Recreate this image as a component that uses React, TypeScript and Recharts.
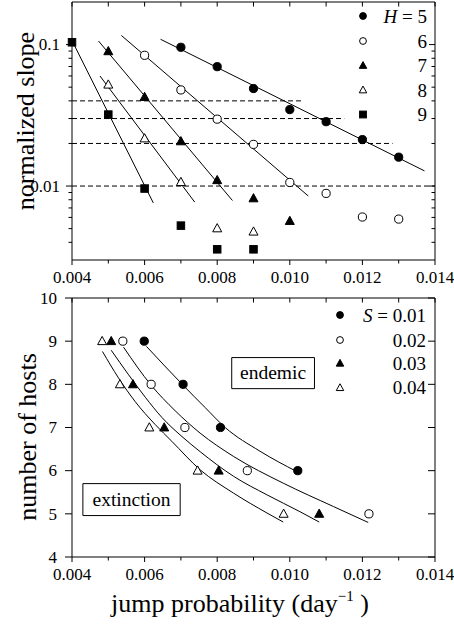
import React from 'react';
import { ComposedChart, Scatter, Line, XAxis, YAxis, ReferenceArea, Legend } from 'recharts';

const FONT = '"Liberation Serif", "Times New Roman", Tinos, "DejaVu Serif", serif';
const INK = '#000';

type Pt = [number, number];
type Kind = 'circle' | 'triangle' | 'square';

// ---------- shared x axis ----------
const jumpDomain: [number, number] = [0.004, 0.014];
const jumpTicks = [0.004, 0.005, 0.006, 0.007, 0.008, 0.009, 0.01, 0.011, 0.012, 0.013, 0.014];
const jumpLabelTicks = [0.004, 0.006, 0.008, 0.01, 0.012, 0.014];

// ---------- top panel: normalized slope ----------
const slopeDomain: [number, number] = [0.003, 0.2];
const slopeTicks = [0.004, 0.005, 0.006, 0.007, 0.008, 0.009, 0.01, 0.02, 0.03, 0.04, 0.05, 0.06, 0.07, 0.08, 0.09, 0.1];
const slopeLabelTicks = [0.01, 0.1];
const hLabels = ['5', '6', '7', '8', '9'];

const slopeH5: Pt[] = [[0.007, 0.0957], [0.008, 0.0698], [0.009, 0.0489], [0.010, 0.0347], [0.011, 0.0285], [0.012, 0.0213], [0.013, 0.0160]];
const slopeH6: Pt[] = [[0.006, 0.084], [0.007, 0.0478], [0.008, 0.0297], [0.009, 0.0197], [0.010, 0.0106], [0.011, 0.00887], [0.012, 0.00604], [0.013, 0.00584]];
const slopeH7: Pt[] = [[0.005, 0.0897], [0.006, 0.0426], [0.007, 0.0207], [0.008, 0.011], [0.009, 0.00818], [0.010, 0.00566]];
const slopeH8: Pt[] = [[0.005, 0.0521], [0.006, 0.0217], [0.007, 0.01066], [0.008, 0.00502], [0.009, 0.00476]];
const slopeH9: Pt[] = [[0.004, 0.1038], [0.005, 0.032], [0.006, 0.0096], [0.007, 0.00525], [0.008, 0.00357], [0.009, 0.00357]];

const fitH5: Pt[] = [[0.00644, 0.109], [0.01371, 0.0128]];
const fitH6: Pt[] = [[0.00536, 0.116], [0.01051, 0.0085]];
const fitH7: Pt[] = [[0.00473, 0.106], [0.00842, 0.0079]];
const fitH8: Pt[] = [[0.00477, 0.060], [0.00738, 0.0077]];
const fitH9: Pt[] = [[0.00403, 0.103], [0.00624, 0.0076]];

const thresholdLevels = [0.04, 0.03, 0.02, 0.01];
const thresholdStart = 0.004;
const thresholdEnds = [0.01038, 0.0115, 0.01283, 0.014];

// ---------- bottom panel: number of hosts ----------
const hostDomain: [number, number] = [4, 10];
const hostTicks = [4, 5, 6, 7, 8, 9, 10];
const sLabels = ['0.01', '0.02', '0.03', '0.04'];

const hostsS1: Pt[] = [[0.00599, 9], [0.00706, 8], [0.00809, 7], [0.01022, 6]];
const hostsS2: Pt[] = [[0.0054, 9], [0.00618, 8], [0.00711, 7], [0.00883, 6], [0.01218, 5]];
const hostsS3: Pt[] = [[0.00508, 9], [0.00568, 8], [0.00654, 7], [0.00804, 6], [0.01081, 5]];
const hostsS4: Pt[] = [[0.00483, 9], [0.00532, 8], [0.00613, 7], [0.00746, 6], [0.00983, 5]];

const curveS1: Pt[] = [[0.00605, 8.88], [0.00706, 7.98], [0.00767, 7.46], [0.00822, 7.0], [0.00918, 6.45], [0.01019, 5.98]];
const curveS2: Pt[] = [[0.00542, 8.86], [0.00618, 7.98], [0.00684, 7.39], [0.00753, 6.87], [0.00845, 6.33], [0.00982, 5.71], [0.0112, 5.17], [0.01216, 4.8]];
const curveS3: Pt[] = [[0.00508, 8.79], [0.00556, 8.22], [0.00602, 7.7], [0.00648, 7.23], [0.00703, 6.79], [0.00753, 6.44], [0.00845, 5.87], [0.00937, 5.44], [0.01028, 5.05], [0.01081, 4.81]];
const curveS4: Pt[] = [[0.00484, 8.76], [0.00528, 8.15], [0.00574, 7.6], [0.00629, 7.07], [0.00675, 6.68], [0.00753, 6.02], [0.00845, 5.48], [0.00937, 5.02], [0.00982, 4.81]];

const endemicBox = { x1: 0.0084, x2: 0.01068, y1: 7.9, y2: 8.62 };
const extinctionBox = { x1: 0.0043, x2: 0.00698, y1: 4.96, y2: 5.7 };

const rows = (pts: Pt[]) => pts.map(([x, y]) => ({ x, y }));

const topSeries: { data: Pt[]; fit: Pt[]; kind: Kind; filled: boolean }[] = [
  { data: slopeH5, fit: fitH5, kind: 'circle', filled: true },
  { data: slopeH6, fit: fitH6, kind: 'circle', filled: false },
  { data: slopeH7, fit: fitH7, kind: 'triangle', filled: true },
  { data: slopeH8, fit: fitH8, kind: 'triangle', filled: false },
  { data: slopeH9, fit: fitH9, kind: 'square', filled: true },
];

const bottomSeries: { data: Pt[]; curve: Pt[]; kind: Kind; filled: boolean }[] = [
  { data: hostsS1, curve: curveS1, kind: 'circle', filled: true },
  { data: hostsS2, curve: curveS2, kind: 'circle', filled: false },
  { data: hostsS3, curve: curveS3, kind: 'triangle', filled: true },
  { data: hostsS4, curve: curveS4, kind: 'triangle', filled: false },
];

const textStyle = { fontFamily: FONT };

function Marker({ cx, cy, kind, filled, s }: { cx: number; cy: number; kind: Kind; filled: boolean; s: number }) {
  const fill = filled ? INK : '#fff';
  if (kind === 'circle') return <circle cx={cx} cy={cy} r={s / 2} fill={fill} stroke={INK} strokeWidth={1} />;
  if (kind === 'square')
    return <rect x={cx - s / 2} y={cy - s / 2} width={s} height={s} fill={fill} stroke={INK} strokeWidth={1} />;
  const w = s * 1.1;
  const h = s;
  return (
    <polygon
      points={`${cx},${cy - h * 0.58} ${cx - w / 2},${cy + h * 0.42} ${cx + w / 2},${cy + h * 0.42}`}
      fill={fill}
      stroke={INK}
      strokeWidth={1}
    />
  );
}

const isIn = (arr: number[], v: number) => arr.some((t) => Math.abs(t - v) < 1e-9);

function makeXTick(plotH: number) {
  return (props: any) => {
    const { x, y, payload } = props;
    const v = payload.value as number;
    const major = isIn(jumpLabelTicks, v);
    const len = major ? 5 : 3.5;
    const topY = y - plotH;
    return (
      <g>
        <line x1={x} x2={x} y1={y} y2={y + len} stroke={INK} strokeWidth={1} />
        <line x1={x} x2={x} y1={topY} y2={topY + 4.5} stroke={INK} strokeWidth={1} />
        {major && (
          <text x={x} y={y + 23.3} textAnchor="middle" fontSize={17} style={textStyle} fill={INK}>
            {v.toFixed(3)}
          </text>
        )}
      </g>
    );
  };
}

function makeYTick(plotW: number, labelTicks: number[], majorLen: number, minorLen: number, gap: number) {
  return (props: any) => {
    const { x, y, payload } = props;
    const v = payload.value as number;
    const major = isIn(labelTicks, v);
    const len = major ? majorLen : minorLen;
    const rx = x + plotW;
    return (
      <g>
        <line x1={x - len} x2={x} y1={y} y2={y} stroke={INK} strokeWidth={1} />
        <line x1={rx - len} x2={rx} y1={y} y2={y} stroke={INK} strokeWidth={1} />
        {major && (
          <text x={x - gap} y={y + 5.8} textAnchor="end" fontSize={17} style={textStyle} fill={INK}>
            {String(v)}
          </text>
        )}
      </g>
    );
  };
}

function boxLabel(text: string) {
  return (props: any) => {
    const vb = props.viewBox || {};
    const cx = (vb.x ?? 0) + (vb.width ?? 0) / 2;
    const cy = (vb.y ?? 0) + (vb.height ?? 0) / 2;
    return (
      <text x={cx} y={cy + 6.3} textAnchor="middle" fontSize={19.5} style={textStyle} fill={INK}>
        {text}
      </text>
    );
  };
}

function TopLegend() {
  const ys = [16, 41, 65.5, 90, 114.5];
  return (
    <svg width={110} height={130} style={{ display: 'block', overflow: 'visible' }}>
      {hLabels.map((lab, i) => (
        <g key={lab}>
          <Marker cx={23} cy={ys[i]} kind={topSeries[i].kind} filled={topSeries[i].filled} s={6.8} />
          <text x={87} y={ys[i] + 6.5} textAnchor="end" fontSize={19} style={textStyle} fill={INK}>
            {i === 0 ? (
              <>
                <tspan fontStyle="italic">H</tspan>
                {' = ' + lab}
              </>
            ) : (
              lab
            )}
          </text>
        </g>
      ))}
    </svg>
  );
}

function BottomLegend() {
  const ys = [15, 40, 63.3, 87.7];
  return (
    <svg width={130} height={110} style={{ display: 'block', overflow: 'visible' }}>
      {sLabels.map((lab, i) => (
        <g key={lab}>
          <Marker cx={20} cy={ys[i]} kind={bottomSeries[i].kind} filled={bottomSeries[i].filled} s={6.8} />
          <text x={106} y={ys[i] + 6.5} textAnchor="end" fontSize={19} style={textStyle} fill={INK}>
            {i === 0 ? (
              <>
                <tspan fontStyle="italic">S</tspan>
                {' = ' + lab}
              </>
            ) : (
              lab
            )}
          </text>
        </g>
      ))}
    </svg>
  );
}

const W = 454;
const TOP_H = 300;
const topMargin = { top: 2, right: 19, bottom: 39, left: 71 };
const BOT_H = 346;
const botMargin = { top: 18, right: 19, bottom: 68, left: 71 };
const plotW = W - 72 - 19;

function TopPanel() {
  const plotH = TOP_H - topMargin.top - topMargin.bottom - 1;
  return (
    <ComposedChart width={W} height={TOP_H} margin={topMargin}>
      <XAxis
        type="number"
        dataKey="x"
        domain={jumpDomain}
        ticks={jumpTicks}
        interval={0}
        height={1}
        tickSize={0}
        tickMargin={0}
        axisLine={false}
        tickLine={false}
        tick={makeXTick(plotH)}
      />
      <YAxis
        type="number"
        dataKey="y"
        scale="log"
        domain={slopeDomain}
        ticks={slopeTicks}
        interval={0}
        width={1}
        tickSize={0}
        tickMargin={0}
        axisLine={false}
        tickLine={false}
        tick={makeYTick(plotW, slopeLabelTicks, 6, 3.5, 12)}
        label={() => (
          <text x={34} y={121} transform="rotate(-90 34 121)" textAnchor="middle" fontSize={26} style={textStyle} fill={INK}>
            normalized slope
          </text>
        )}
      />
      <ReferenceArea
        x1={jumpDomain[0]}
        x2={jumpDomain[1]}
        y1={slopeDomain[0]}
        y2={slopeDomain[1]}
        fill="none"
        fillOpacity={0}
        stroke={INK}
        strokeWidth={1}
        ifOverflow="visible"
      />
      {thresholdLevels.map((lv, i) => (
        <Line
          key={'thr' + i}
          data={rows([[thresholdStart, lv], [thresholdEnds[i], lv]])}
          dataKey="y"
          type="linear"
          stroke={INK}
          strokeWidth={1}
          strokeDasharray="5 3"
          dot={false}
          activeDot={false}
          isAnimationActive={false}
        />
      ))}
      {topSeries.map((s, i) => (
        <Line
          key={'fit' + i}
          data={rows(s.fit)}
          dataKey="y"
          type="linear"
          stroke={INK}
          strokeWidth={1}
          dot={false}
          activeDot={false}
          isAnimationActive={false}
        />
      ))}
      {topSeries.map((s, i) => (
        <Scatter
          key={'pts' + i}
          data={rows(s.data)}
          dataKey="y"
          isAnimationActive={false}
          shape={(p: any) => <Marker cx={p.cx} cy={p.cy} kind={s.kind} filled={s.filled} s={s.kind === 'square' ? 7.5 : 8.2} />}
        />
      ))}
      <Legend
        layout="horizontal"
        verticalAlign="middle"
        align="center"
        wrapperStyle={{ left: 340, top: 0, width: 110, height: 130 }}
        content={() => <TopLegend />}
      />
    </ComposedChart>
  );
}

function BottomPanel() {
  const plotH = BOT_H - botMargin.top - botMargin.bottom - 1;
  return (
    <ComposedChart width={W} height={BOT_H} margin={botMargin}>
      <XAxis
        type="number"
        dataKey="x"
        domain={jumpDomain}
        ticks={jumpTicks}
        interval={0}
        height={1}
        tickSize={0}
        tickMargin={0}
        axisLine={false}
        tickLine={false}
        tick={makeXTick(plotH)}
        label={() => (
          <text x={240} y={332} textAnchor="middle" fontSize={26} style={textStyle} fill={INK}>
            jump probability (day
            <tspan fontSize={15} dy={-11}>−1</tspan>
            <tspan dy={11}> )</tspan>
          </text>
        )}
      />
      <YAxis
        type="number"
        dataKey="y"
        domain={hostDomain}
        ticks={hostTicks}
        interval={0}
        width={1}
        tickSize={0}
        tickMargin={0}
        axisLine={false}
        tickLine={false}
        tick={makeYTick(plotW, hostTicks, 7, 7, 15)}
        label={() => (
          <text x={36} y={157} transform="rotate(-90 36 157)" textAnchor="middle" fontSize={26} style={textStyle} fill={INK}>
            number of hosts
          </text>
        )}
      />
      <ReferenceArea
        x1={jumpDomain[0]}
        x2={jumpDomain[1]}
        y1={hostDomain[0]}
        y2={hostDomain[1]}
        fill="none"
        fillOpacity={0}
        stroke={INK}
        strokeWidth={1}
        ifOverflow="visible"
      />
      {bottomSeries.map((s, i) => (
        <Line
          key={'curve' + i}
          data={rows(s.curve)}
          dataKey="y"
          type="monotone"
          stroke={INK}
          strokeWidth={1}
          dot={false}
          activeDot={false}
          isAnimationActive={false}
        />
      ))}
      {bottomSeries.map((s, i) => (
        <Scatter
          key={'hp' + i}
          data={rows(s.data)}
          dataKey="y"
          isAnimationActive={false}
          shape={(p: any) => <Marker cx={p.cx} cy={p.cy} kind={s.kind} filled={s.filled} s={8.2} />}
        />
      ))}
      <ReferenceArea
        {...endemicBox}
        fill="#fff"
        fillOpacity={1}
        stroke={INK}
        strokeWidth={1}
        ifOverflow="visible"
        label={boxLabel('endemic')}
      />
      <ReferenceArea
        {...extinctionBox}
        fill="#fff"
        fillOpacity={1}
        stroke={INK}
        strokeWidth={1}
        ifOverflow="visible"
        label={boxLabel('extinction')}
      />
      <Legend
        layout="horizontal"
        verticalAlign="middle"
        align="center"
        wrapperStyle={{ left: 320, top: 20, width: 130, height: 110 }}
        content={() => <BottomLegend />}
      />
    </ComposedChart>
  );
}

export default function App() {
  return (
    <div style={{ position: 'absolute', left: 0, top: 0, width: 454, height: 626, background: '#fff' }}>
      <div style={{ position: 'absolute', left: 0, top: 0 }}>
        <TopPanel />
      </div>
      <div style={{ position: 'absolute', left: 0, top: 280 }}>
        <BottomPanel />
      </div>
    </div>
  );
}
